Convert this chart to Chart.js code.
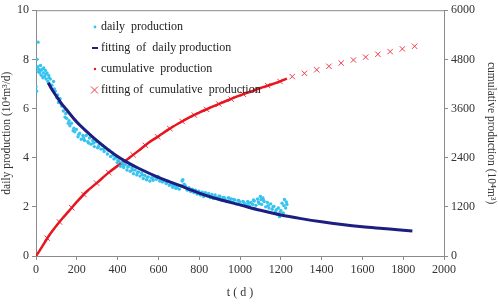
<!DOCTYPE html>
<html>
<head>
<meta charset="utf-8">
<script src="https://cdn.jsdelivr.net/npm/chart.js@4"></script>
<style>
  html, body { margin: 0; padding: 0; background: #fff; }
  #wrap { width: 498px; height: 304px; }
</style>
</head>
<body>
<div id="wrap"><canvas id="c" width="498" height="304"></canvas></div>
<script>
// daily production (scatter, left axis)
const dailyDays = [0,3,5,8,10,14,18,22,26,30,34,38,42,46,50,54,58,62,66,70,
  78,86,94,102,110,118,126,134,142,150,158,166,174,182,190,198,206,214,222,230,
  238,246,254,262,270,278,286,294,302,310,318,326,334,342,350,358,366,374,382,390,
  398,406,414,422,430,438,446,454,462,470,478,486,494,502,510,518,526,534,542,550,
  558,566,574,582,590,598,606,614,622,630,638,646,654,662,670,678,686,694,702,710,
  716,720,726,734,742,750,758,766,774,782,790,798,806,814,822,830,838,846,854,862,
  870,878,886,894,902,910,918,926,934,942,950,958,966,974,982,990,998,1006,1014,1022,
  1030,1038,1046,1054,1062,1070,1078,1086,1094,1100,1106,1112,1118,1126,1134,1142,1150,1158,1166,1174,
  1182,1188,1194,1200,1206,1212,1218,1224,1230,
  // extra scatter in the band
  12,24,36,48,64,90,106,122,146,162,186,210,234,258,282,306,330,354,378,402,
  426,450,474,498,522,546,570,594,618,642,666,690,730,754,778,802,826,850,874,898,
  922,946,970,994,1018,1042,1066,1090,1103,1115,1138,1162,1178,1196,1215,1227];
const dailyRate = [6.9,6.7,8.0,7.7,8.7,7.6,7.45,7.75,7.35,7.6,7.25,7.65,7.3,7.55,7.2,7.45,7.1,7.35,7.0,7.2,
  6.95,7.1,6.7,6.45,6.25,6.4,6.1,5.9,5.65,5.6,5.4,5.3,5.4,5.1,5.05,5.15,4.85,5.0,4.75,4.9,
  4.7,4.9,4.65,4.8,4.55,4.7,4.45,4.65,4.4,4.55,4.35,4.5,4.25,4.4,4.15,4.3,4.05,4.2,3.95,4.0,
  3.8,3.85,3.65,3.8,3.6,3.72,3.5,3.65,3.45,3.58,3.35,3.5,3.3,3.42,3.25,3.38,3.15,3.28,3.1,3.22,
  3.05,3.18,3.08,3.22,3.12,3.24,3.05,3.1,3.02,3.08,2.95,3.05,2.88,2.95,2.8,2.86,2.75,2.85,2.72,2.85,
  3.05,3.1,2.92,2.8,2.68,2.78,2.62,2.72,2.58,2.68,2.52,2.64,2.48,2.6,2.42,2.58,2.44,2.54,2.38,2.5,
  2.34,2.48,2.38,2.32,2.42,2.28,2.38,2.3,2.22,2.36,2.24,2.32,2.18,2.28,2.12,2.26,2.2,2.08,2.22,2.14,
  2.08,2.22,2.04,2.18,2.1,2.24,2.06,2.32,2.14,2.42,2.1,2.36,2.22,2.0,2.18,1.95,2.12,1.9,2.02,1.8,
  1.7,1.95,1.6,1.85,2.15,1.75,2.3,1.95,2.1,
  7.5,7.55,7.45,7.4,7.25,6.8,6.55,6.2,5.8,5.5,5.2,4.95,4.8,4.6,4.6,4.45,4.35,4.3,4.1,3.9,
  3.7,3.62,3.5,3.4,3.3,3.2,3.18,3.15,3.02,2.98,2.92,2.78,2.88,2.7,2.66,2.56,2.55,2.42,2.4,2.44,
  2.38,2.36,2.3,2.26,2.2,2.15,2.28,2.2,2.3,2.28,2.05,2.0,1.88,1.78,2.05,2.2];

// fitting of daily production (left axis)
const fitDays = [60,80,100,125,150,200,250,300,350,400,450,500,600,700,800,900,1000,1100,1200,1300,1400,1500,1600,1700,1800,1845];
const fitRate = [7.05,6.75,6.5,6.2,5.95,5.45,5.05,4.68,4.35,4.05,3.8,3.58,3.2,2.88,2.56,2.3,2.08,1.86,1.67,1.52,1.39,1.28,1.19,1.12,1.05,1.02];

// cumulative production (right axis)
const cumDays = [0,20,40,60,80,100,130,160,200,250,300,350,400,450,500,550,600,650,700,750,800,850,900,950,1000,1050,1100,1150,1200,1230];
const cumProd = [0,150,310,470,610,740,920,1090,1320,1580,1790,2010,2200,2370,2560,2760,2920,3090,3240,3380,3500,3610,3720,3820,3920,4010,4100,4180,4270,4330];

// fitting of cumulative production (right axis)
const cumFitDays = [55,115,175,235,297,357,416,476,536,596,656,716,776,836,896,956,1016,1076,1136,1196,
  1256,1316,1376,1436,1496,1556,1616,1676,1736,1796,1856];
const cumFitProd = [435,830,1180,1500,1780,2035,2255,2470,2700,2910,3110,3285,3440,3580,3710,3830,3950,4055,4160,4260,
  4380,4460,4545,4630,4710,4785,4855,4925,4990,5055,5120];

const xTicks = [0,200,400,600,800,1000,1200,1400,1600,1800,2000];
const legendLabels = ['daily  production', 'fitting  of  daily production', 'cumulative  production', 'fitting of  cumulative  production'];

const CYAN = '#35c3f0';
const NAVY = '#1c1f80';
const RED = '#e8141e';
const XRED = '#ee3a44';
const AXIS = '#8a8a8a';
const FONT = '"Liberation Serif", "Times New Roman", serif';

const pts = (xs, ys) => xs.map((x, i) => ({ x, y: ys[i] }));
const plain = v => String(v);

const frame = {
  id: 'frame',
  afterDraw(chart) {
    const { ctx, chartArea: a } = chart;
    ctx.save();
    ctx.strokeStyle = AXIS;
    ctx.lineWidth = 1;
    ctx.beginPath();
    ctx.moveTo(a.left, a.top + 0.5);
    ctx.lineTo(a.right, a.top + 0.5);
    ctx.stroke();

    // legend inside plot
    const lx = 95, ly = [27, 48, 69, 90];
    ctx.font = '12px ' + FONT;
    ctx.fillStyle = '#222';
    ctx.textBaseline = 'middle';
    legendLabels.forEach((t, i) => ctx.fillText(t, lx + 6, ly[i]));
    ctx.fillStyle = CYAN;
    ctx.beginPath(); ctx.arc(lx, ly[0], 1.4, 0, Math.PI * 2); ctx.fill();
    ctx.strokeStyle = NAVY; ctx.lineWidth = 2;
    ctx.beginPath(); ctx.moveTo(lx - 3, ly[1]); ctx.lineTo(lx + 3, ly[1]); ctx.stroke();
    ctx.fillStyle = RED;
    ctx.beginPath(); ctx.arc(lx, ly[2], 1.2, 0, Math.PI * 2); ctx.fill();
    ctx.strokeStyle = XRED; ctx.lineWidth = 1;
    ctx.beginPath();
    ctx.moveTo(lx - 4, ly[3] - 3.5); ctx.lineTo(lx + 3, ly[3] + 3.5);
    ctx.moveTo(lx + 3, ly[3] - 3.5); ctx.lineTo(lx - 4, ly[3] + 3.5);
    ctx.stroke();
    ctx.restore();
  }
};

new Chart(document.getElementById('c'), {
  type: 'scatter',
  data: {
    datasets: [
      { label: legendLabels[3], data: pts(cumFitDays, cumFitProd), yAxisID: 'y2', showLine: false,
        pointStyle: 'crossRot', pointRadius: 3.8, borderColor: XRED, borderWidth: 1, order: 4 },
      { label: legendLabels[2], data: pts(cumDays, cumProd), yAxisID: 'y2', showLine: true,
        borderColor: RED, borderWidth: 2.5, pointRadius: 0, tension: 0.3, order: 3 },
      { label: legendLabels[0], data: pts(dailyDays, dailyRate), yAxisID: 'y', showLine: false,
        pointRadius: 1.7, pointBorderWidth: 0, backgroundColor: CYAN, order: 2 },
      { label: legendLabels[1], data: pts(fitDays, fitRate), yAxisID: 'y', showLine: true,
        borderColor: NAVY, borderWidth: 3, pointRadius: 0, cubicInterpolationMode: 'monotone', order: 1 }
    ]
  },
  options: {
    responsive: false,
    animation: false,
    layout: { padding: { top: 6, left: 0, right: 0, bottom: 0 } },
    plugins: { legend: { display: false }, tooltip: { enabled: false } },
    scales: {
      x: {
        type: 'linear', min: 0, max: 2000,
        afterBuildTicks: s => { s.ticks = xTicks.map(v => ({ value: v })); },
        afterFit: s => { s.height = 48; },
        grid: { drawOnChartArea: false, tickLength: 4, color: AXIS },
        border: { color: AXIS },
        ticks: { color: '#333', font: { family: FONT, size: 12 }, padding: 3, maxRotation: 0, callback: plain },
        title: { display: true, text: 't ( d )', color: '#333', font: { family: FONT, size: 12 }, padding: { top: 8 } }
      },
      y: {
        position: 'left', min: 0, max: 10,
        ticks: { stepSize: 2, color: '#333', font: { family: FONT, size: 12 }, padding: 3, callback: plain },
        afterFit: s => { s.width = 36; },
        grid: { drawOnChartArea: false, tickLength: 4, color: AXIS },
        border: { color: AXIS },
        title: { display: true, text: 'daily production (10⁴m³/d)', color: '#333', font: { family: FONT, size: 11.5 }, padding: 0 }
      },
      y2: {
        position: 'right', min: 0, max: 6000,
        ticks: { stepSize: 1200, color: '#333', font: { family: FONT, size: 12 }, padding: 3, callback: plain },
        afterFit: s => { s.width = 54; },
        grid: { drawOnChartArea: false, tickLength: 4, color: AXIS },
        border: { color: AXIS },
        title: { display: true, text: 'cumulative production (10⁴m³)', color: '#333', font: { family: FONT, size: 11.5 }, padding: 0 }
      }
    }
  },
  plugins: [frame]
});
</script>
</body>
</html>
